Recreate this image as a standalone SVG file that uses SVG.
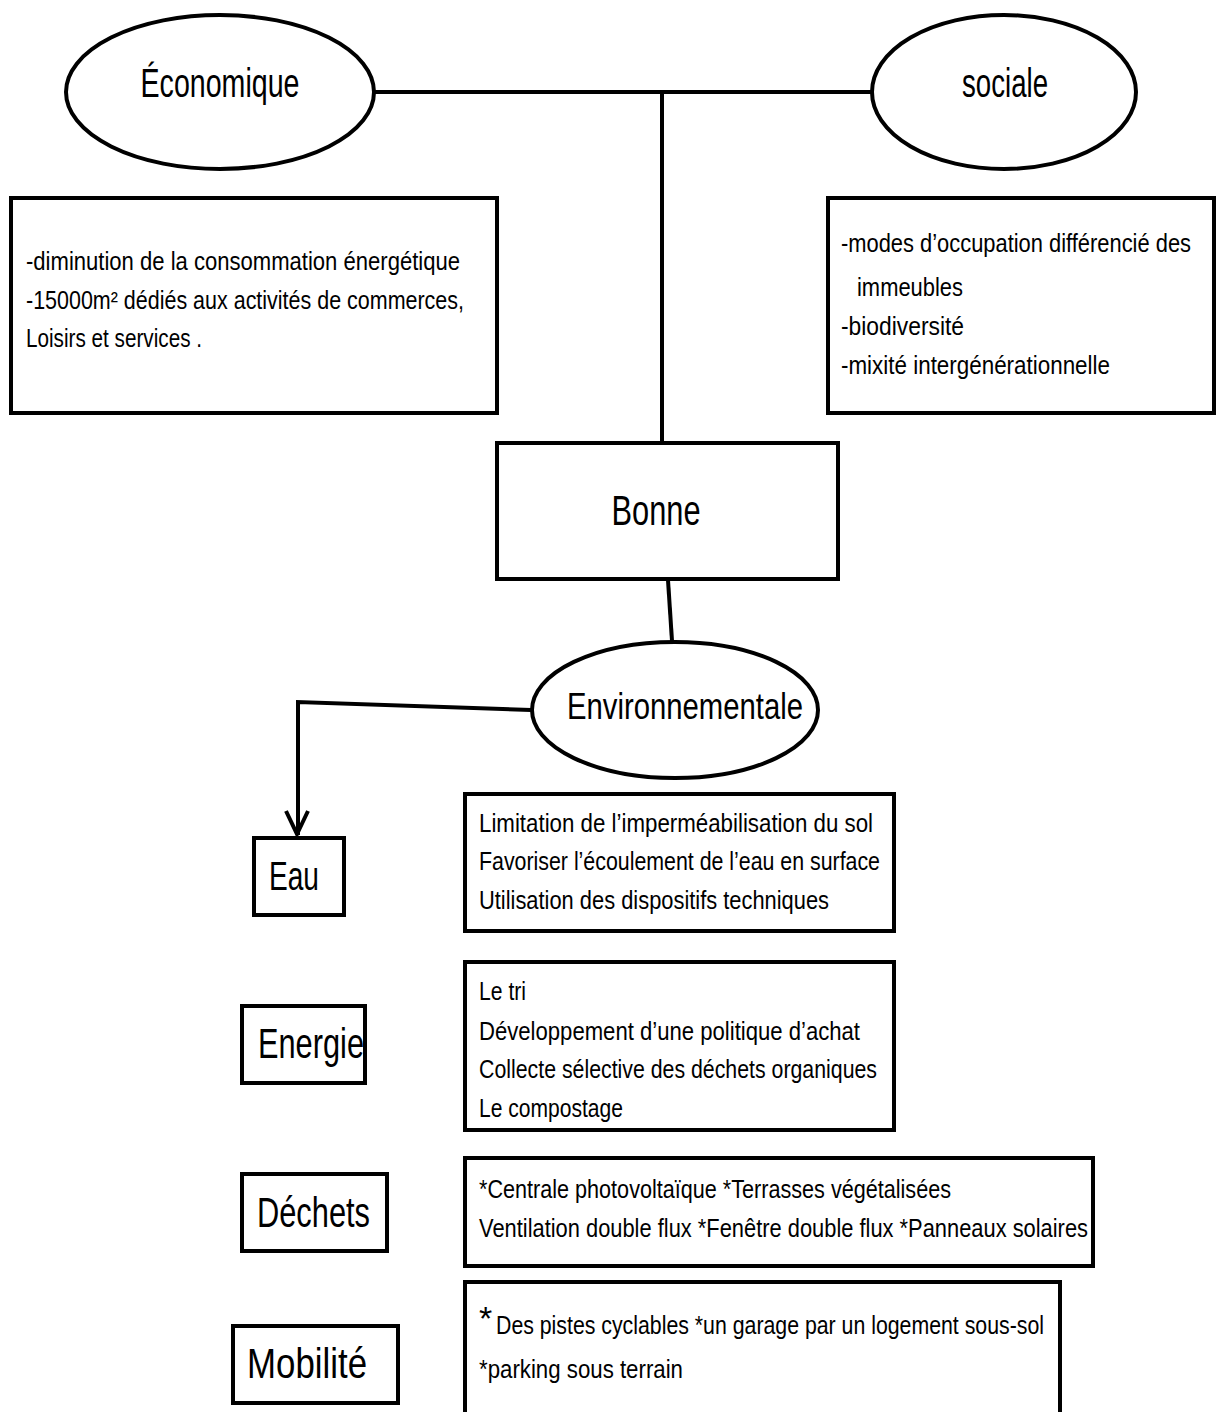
<svg xmlns="http://www.w3.org/2000/svg" width="1221" height="1412" viewBox="0 0 1221 1412">
<style>
.shape{fill:#fff;stroke:#000;stroke-width:4}
.conn{fill:none;stroke:#000;stroke-width:4}
text{font-family:"Liberation Sans",Arial,sans-serif;fill:#000}
.t{font-size:26px}
.big{font-size:40px}
</style>
<rect width="1221" height="1412" fill="#fff"/>
<g id="connectors">
<path class="conn" d="M375 92 H872" stroke-width="5"/>
<path class="conn" d="M662 92 V443" stroke-width="3.5"/>
<path class="conn" d="M668 580 L672 641" stroke-width="3.5"/>
<path class="conn" d="M531 710 L298 702 V835"/>
<path class="conn" d="M286 811 L297 834 L308 811" stroke-width="3.5"/>
</g>
<g id="economique">
<ellipse class="shape" cx="220" cy="92" rx="154" ry="77"/>
<text class="big" x="220" y="97" text-anchor="middle" font-size="36" textLength="159" lengthAdjust="spacingAndGlyphs">Économique</text>
</g>
<g id="sociale">
<ellipse class="shape" cx="1004" cy="92" rx="132" ry="77"/>
<text class="big" x="1005" y="97" text-anchor="middle" font-size="36" textLength="86" lengthAdjust="spacingAndGlyphs">sociale</text>
</g>
<g id="eco-details">
<rect class="shape" x="11" y="198" width="486" height="215"/>
<text class="t" x="26" y="270" textLength="434" lengthAdjust="spacingAndGlyphs">-diminution de la consommation énergétique</text>
<text class="t" x="26" y="309" textLength="438" lengthAdjust="spacingAndGlyphs">-15000m² dédiés aux activités de commerces,</text>
<text class="t" x="26" y="347" textLength="176" lengthAdjust="spacingAndGlyphs">Loisirs et services .</text>
</g>
<g id="soc-details">
<rect class="shape" x="828" y="198" width="386" height="215"/>
<text class="t" x="841" y="252" textLength="350" lengthAdjust="spacingAndGlyphs">-modes d’occupation différencié des</text>
<text class="t" x="857" y="296" textLength="106" lengthAdjust="spacingAndGlyphs">immeubles</text>
<text class="t" x="841" y="335" textLength="123" lengthAdjust="spacingAndGlyphs">-biodiversité</text>
<text class="t" x="841" y="374" textLength="269" lengthAdjust="spacingAndGlyphs">-mixité intergénérationnelle</text>
</g>
<g id="bonne">
<rect class="shape" x="497" y="443" width="341" height="136"/>
<text x="656" y="525" text-anchor="middle" font-size="43" textLength="89" lengthAdjust="spacingAndGlyphs">Bonne</text>
</g>
<g id="environnementale">
<ellipse class="shape" cx="675" cy="710" rx="143" ry="68"/>
<text x="685" y="719" text-anchor="middle" font-size="37" textLength="236" lengthAdjust="spacingAndGlyphs">Environnementale</text>
</g>
<g id="eau">
<rect class="shape" x="254" y="838" width="90" height="77"/>
<text x="269" y="890" font-size="41" textLength="50" lengthAdjust="spacingAndGlyphs">Eau</text>
</g>
<g id="eau-details">
<rect class="shape" x="465" y="794" width="429" height="137"/>
<text class="t" x="479" y="832" textLength="394" lengthAdjust="spacingAndGlyphs">Limitation de l’imperméabilisation du sol</text>
<text class="t" x="479" y="870" textLength="401" lengthAdjust="spacingAndGlyphs">Favoriser l’écoulement de l’eau en surface</text>
<text class="t" x="479" y="909" textLength="350" lengthAdjust="spacingAndGlyphs">Utilisation des dispositifs techniques</text>
</g>
<g id="energie">
<rect class="shape" x="242" y="1006" width="123" height="77"/>
<text x="258" y="1058" font-size="43" textLength="106" lengthAdjust="spacingAndGlyphs">Energie</text>
</g>
<g id="energie-details">
<rect class="shape" x="465" y="962" width="429" height="168"/>
<text class="t" x="479" y="1000" textLength="47" lengthAdjust="spacingAndGlyphs">Le tri</text>
<text class="t" x="479" y="1040" textLength="381" lengthAdjust="spacingAndGlyphs">Développement d’une politique d’achat</text>
<text class="t" x="479" y="1078" textLength="398" lengthAdjust="spacingAndGlyphs">Collecte sélective des déchets organiques</text>
<text class="t" x="479" y="1117" textLength="144" lengthAdjust="spacingAndGlyphs">Le compostage</text>
</g>
<g id="dechets">
<rect class="shape" x="242" y="1174" width="145" height="77"/>
<text x="257" y="1227" font-size="43" textLength="113" lengthAdjust="spacingAndGlyphs">Déchets</text>
</g>
<g id="dechets-details">
<rect class="shape" x="465" y="1158" width="628" height="108"/>
<text class="t" x="479" y="1198" textLength="472" lengthAdjust="spacingAndGlyphs">*Centrale photovoltaïque *Terrasses végétalisées</text>
<text class="t" x="479" y="1237" textLength="609" lengthAdjust="spacingAndGlyphs">Ventilation double flux *Fenêtre double flux *Panneaux solaires</text>
</g>
<g id="mobilite">
<rect class="shape" x="233" y="1326" width="165" height="77"/>
<text x="247" y="1378" font-size="43" textLength="120" lengthAdjust="spacingAndGlyphs">Mobilité</text>
</g>
<g id="mobilite-details">
<rect class="shape" x="465" y="1282" width="595" height="140"/>
<text x="479" y="1330" font-size="34">*</text>
<text class="t" x="496" y="1334" textLength="548" lengthAdjust="spacingAndGlyphs">Des pistes cyclables *un garage par un logement sous-sol</text>
<text class="t" x="479" y="1378" textLength="204" lengthAdjust="spacingAndGlyphs">*parking sous terrain</text>
</g>
</svg>
